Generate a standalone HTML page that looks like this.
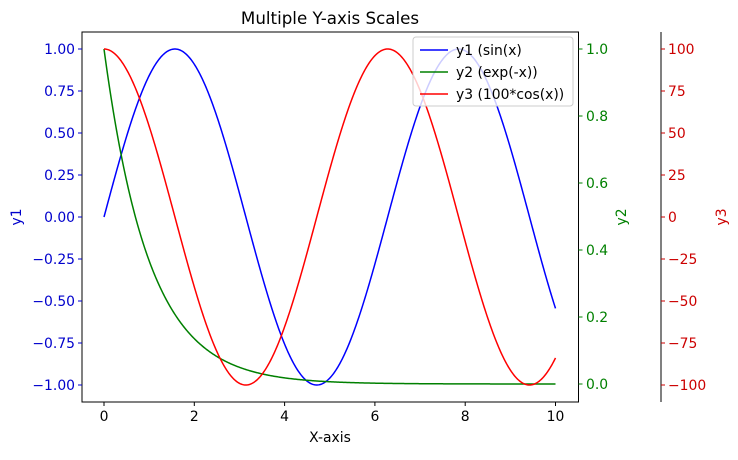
<!DOCTYPE html><html><head><style>body{margin:0;background:#fff}svg{font-family:"DejaVu Sans","Liberation Sans",sans-serif}</style></head><body>
<svg id="s" width="738" height="455" xmlns="http://www.w3.org/2000/svg">
<rect x="82" y="32" width="496.5" height="370" fill="none" stroke="#000" stroke-width="1"/>
<line x1="661" y1="32" x2="661" y2="402" stroke="#000"/>
<g id="t"></g>
<text x="330" y="24" font-size="16.7" text-anchor="middle">Multiple Y-axis Scales</text>
<text x="330" y="442" font-size="13.9" text-anchor="middle">X-axis</text>
<text transform="translate(21,217) rotate(-90)" font-size="13.9" text-anchor="middle" fill="#0000cc">y1</text>
<text transform="translate(626,217) rotate(-90)" font-size="13.9" text-anchor="middle" fill="green">y2</text>
<text transform="translate(726,217) rotate(-90)" font-size="13.9" text-anchor="middle" fill="#cc0000">y3</text>
<g id="p"></g>
<rect x="413" y="37" width="160" height="69" rx="3" fill="#fff" fill-opacity="0.8" stroke="#ccc"/>
<line x1="420" y1="50" x2="448" y2="50" stroke="#0000ff" stroke-width="1.5"/>
<line x1="420" y1="72" x2="448" y2="72" stroke="green" stroke-width="1.5"/>
<line x1="420" y1="94" x2="448" y2="94" stroke="red" stroke-width="1.5"/>
<text x="456" y="55" font-size="13.9">y1 (sin(x)</text>
<text x="456" y="77" font-size="13.9">y2 (exp(-x))</text>
<text x="456" y="99" font-size="13.9">y3 (100*cos(x))</text>
</svg>
<script>
var ns="http://www.w3.org/2000/svg",t=document.getElementById("t"),p=document.getElementById("p");
function el(g,n,a,txt){var e=document.createElementNS(ns,n);for(var k in a)e.setAttribute(k,a[k]);if(txt!=null)e.textContent=txt;g.appendChild(e);}
function X(x){return 104+x*45.15}
var fs=13.9;
for(var i=0;i<=10;i+=2){el(t,"line",{x1:X(i),x2:X(i),y1:402,y2:406,stroke:"#000"});el(t,"text",{x:X(i),y:421,"font-size":fs,"text-anchor":"middle"},""+i);}
var l1=["1.00","0.75","0.50","0.25","0.00","\u22120.25","\u22120.50","\u22120.75","\u22121.00"];
for(var i=0;i<9;i++){var y=49+i*42;el(t,"line",{x1:78,x2:82,y1:y,y2:y,stroke:"#0000cc"});el(t,"text",{x:75,y:y+5,"font-size":fs,"text-anchor":"end",fill:"#0000cc"},l1[i]);}
for(var i=0;i<=5;i++){var y=384-i*67;el(t,"line",{x1:578.5,x2:582.5,y1:y,y2:y,stroke:"green"});el(t,"text",{x:586,y:y+5,"font-size":fs,fill:"green"},(i/5).toFixed(1));}
var l3=["100","75","50","25","0","\u221225","\u221250","\u221275","\u2212100"];
for(var i=0;i<9;i++){var y=49+i*42;el(t,"line",{x1:661,x2:665,y1:y,y2:y,stroke:"#cc0000"});el(t,"text",{x:668,y:y+5,"font-size":fs,fill:"#cc0000"},l3[i]);}
function path(f,c){var d="";for(var i=0;i<=500;i++){var x=i/50;d+=(i?"L":"M")+X(x).toFixed(2)+","+f(x).toFixed(2);}el(p,"path",{d:d,fill:"none",stroke:c,"stroke-width":1.5});}
path(function(x){return 217-168*Math.sin(x)},"#0000ff");
path(function(x){return 384-335*Math.exp(-x)},"green");
path(function(x){return 217-168*Math.cos(x)},"red");
</script></body></html>
